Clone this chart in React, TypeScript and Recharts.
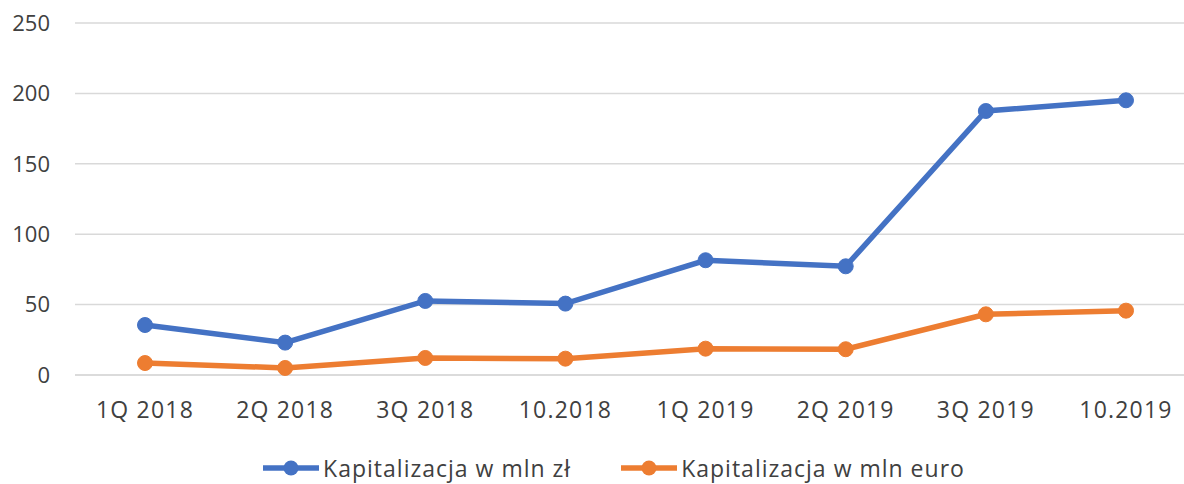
import { LineChart, Line, XAxis, YAxis, CartesianGrid, Legend } from 'recharts'

const categories = ['1Q 2018', '2Q 2018', '3Q 2018', '10.2018', '1Q 2019', '2Q 2019', '3Q 2019', '10.2019']
const plnValues = [35.5, 23.0, 52.6, 50.7, 81.5, 77.2, 187.5, 195.1]
const eurValues = [8.5, 5.0, 12.1, 11.6, 18.7, 18.3, 43.1, 45.7]
const yTicks = [0, 50, 100, 150, 200, 250]

const SERIES = [
  { key: 'pln', name: 'Kapitalizacja w mln zł', color: '#4472C4' },
  { key: 'eur', name: 'Kapitalizacja w mln euro', color: '#ED7D31' },
]

const FONT = '"Open Sans", sans-serif'
const TEXT = '#404040'

const chartData = categories.map((cat, i) => ({
  cat,
  pln: plnValues[i],
  eur: eurValues[i],
}))

function LegendContent() {
  return (
    <div style={{ display: 'flex', justifyContent: 'center', gap: 50, paddingTop: 8, paddingLeft: 32 }}>
      {SERIES.map((s) => (
        <div key={s.key} style={{ display: 'flex', alignItems: 'center' }}>
          <svg width={56} height={16} style={{ marginRight: 4 }}>
            <line x1={0} y1={8} x2={56} y2={8} stroke={s.color} strokeWidth={5.5} />
            <circle cx={28} cy={8} r={7.5} fill={s.color} />
          </svg>
          <span style={{ fontFamily: FONT, fontSize: 23, letterSpacing: 1, color: TEXT, lineHeight: '28px' }}>
            {s.name}
          </span>
        </div>
      ))}
    </div>
  )
}

export default function App() {
  return (
    <div style={{ position: 'absolute', left: 0, top: 0, width: 1184, height: 484, overflow: 'hidden', background: '#fff' }}>
      <LineChart width={1200} height={484} data={chartData} margin={{ top: 23, right: 4, bottom: 0, left: 0 }}>
        <CartesianGrid vertical={false} stroke="#d9d9d9" strokeWidth={1.5} />
        <XAxis
          dataKey="cat"
          height={71}
          padding={{ left: 70, right: 70 }}
          axisLine={{ stroke: '#d9d9d9', strokeWidth: 1.5 }}
          tickLine={false}
          tickSize={0}
          tickMargin={27}
          tick={{ fontFamily: FONT, fontSize: 23, letterSpacing: 1.2, fill: TEXT }}
          interval={0}
        />
        <YAxis
          width={75}
          domain={[0, 250]}
          ticks={yTicks}
          axisLine={false}
          tickLine={false}
          tickSize={0}
          tickMargin={25}
          tick={{ fontFamily: FONT, fontSize: 22, fill: TEXT }}
        />
        <Legend verticalAlign="bottom" height={38} content={<LegendContent />} />
        {SERIES.map((s) => (
          <Line
            key={s.key}
            dataKey={s.key}
            name={s.name}
            stroke={s.color}
            strokeWidth={5.5}
            dot={{ r: 7.5, fill: s.color, stroke: s.color, strokeWidth: 1 }}
            activeDot={false}
            isAnimationActive={false}
          />
        ))}
      </LineChart>
    </div>
  )
}
